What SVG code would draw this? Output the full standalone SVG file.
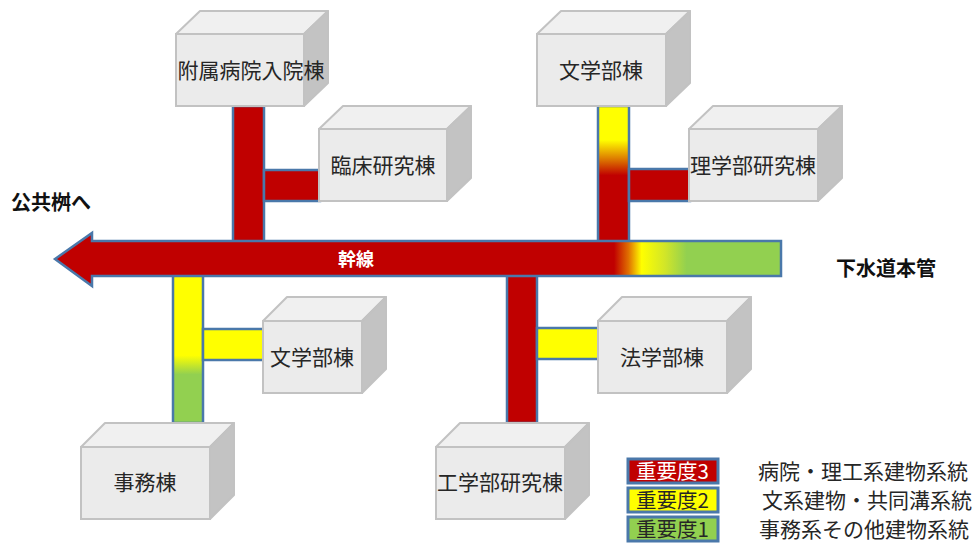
<svg xmlns="http://www.w3.org/2000/svg" width="979" height="545" viewBox="0 0 979 545">
<style>
  .pipe{stroke:#4a78aa;stroke-width:2.5}
  .red{fill:#c00000}
  .yel{fill:#ffff00}
  .grn{fill:#92d050}
  .front{fill:#ebebeb;stroke:#c2c2c2;stroke-width:2}
  .top{fill:#f0f0f0;stroke:#c2c2c2;stroke-width:2;stroke-linejoin:round}
  .side{fill:#c3c3c3;stroke:#c2c2c2;stroke-width:2;stroke-linejoin:round}
  .lbl{font-family:"Noto Sans CJK JP","Noto Sans CJK SC",sans-serif;font-size:21px;fill:#262626;dominant-baseline:central}
  .bold{font-family:"Noto Sans CJK JP","Noto Sans CJK SC",sans-serif;font-size:20px;font-weight:bold;fill:#111;dominant-baseline:central}
</style>
<defs>
  <linearGradient id="gMain" gradientUnits="userSpaceOnUse" x1="55" y1="0" x2="781" y2="0">
    <stop offset="0" stop-color="#c00000"/>
    <stop offset="0.77" stop-color="#c00000"/>
    <stop offset="0.79" stop-color="#e07000"/>
    <stop offset="0.808" stop-color="#ffff00"/>
    <stop offset="0.84" stop-color="#d2e628"/>
    <stop offset="0.87" stop-color="#92d050"/>
    <stop offset="1" stop-color="#92d050"/>
  </linearGradient>
  <linearGradient id="gB" gradientUnits="userSpaceOnUse" x1="0" y1="106" x2="0" y2="242">
    <stop offset="0" stop-color="#ffff00"/>
    <stop offset="0.25" stop-color="#ffff00"/>
    <stop offset="0.39" stop-color="#dd7a00"/>
    <stop offset="0.51" stop-color="#c00000"/>
    <stop offset="1" stop-color="#c00000"/>
  </linearGradient>
  <linearGradient id="gC" gradientUnits="userSpaceOnUse" x1="0" y1="276" x2="0" y2="423">
    <stop offset="0" stop-color="#ffff00"/>
    <stop offset="0.54" stop-color="#ffff00"/>
    <stop offset="0.67" stop-color="#92d050"/>
    <stop offset="1" stop-color="#92d050"/>
  </linearGradient>
</defs>
<rect width="979" height="545" fill="#ffffff"/>

<g id="connectors">
  <rect class="pipe red" x="233" y="106" width="31" height="136"/>
  <rect class="pipe red" x="264" y="170" width="56" height="31"/>
  <rect class="pipe" fill="url(#gB)" x="598" y="106" width="31" height="136"/>
  <rect class="pipe red" x="629" y="169" width="61" height="32"/>
  <rect class="pipe" fill="url(#gC)" x="173" y="275" width="30" height="148"/>
  <rect class="pipe yel" x="203" y="329" width="61" height="31"/>
  <rect class="pipe red" x="507" y="275" width="30" height="148"/>
  <rect class="pipe yel" x="537" y="328" width="62" height="31"/>
  <path id="trunk" class="pipe" fill="url(#gMain)" d="M55,259 L92,233 L92,241 L781,241 L781,276 L92,276 L92,286 Z"/>
  <text x="356" y="258" text-anchor="middle" style="font-family:'Noto Sans CJK JP',sans-serif;font-size:18px;font-weight:bold;fill:#ffffff;dominant-baseline:central">幹線</text>
</g>

<g id="n_fuzoku">
  <polygon class="top" points="176,34 200,11 328,11 304,34"/>
  <polygon class="side" points="304,34 328,11 328,83 304,106"/>
  <rect class="front" x="176" y="34" width="128" height="72"/>
  <text class="lbl" x="251" y="69" text-anchor="middle">附属病院入院棟</text>
</g>
<g id="n_bungaku1">
  <polygon class="top" points="537,34 561,11 690,11 666,34"/>
  <polygon class="side" points="666,34 690,11 690,83 666,106"/>
  <rect class="front" x="537" y="34" width="129" height="72"/>
  <text class="lbl" x="601" y="69" text-anchor="middle">文学部棟</text>
</g>
<g id="n_rinsho">
  <polygon class="top" points="319,129 343,106 471,106 447,129"/>
  <polygon class="side" points="447,129 471,106 471,178 447,201"/>
  <rect class="front" x="319" y="129" width="128" height="72"/>
  <text class="lbl" x="383" y="164" text-anchor="middle">臨床研究棟</text>
</g>
<g id="n_rigaku">
  <polygon class="top" points="689,129 713,106 842,106 818,129"/>
  <polygon class="side" points="818,129 842,106 842,178 818,201"/>
  <rect class="front" x="689" y="129" width="129" height="72"/>
  <text class="lbl" x="753" y="164" text-anchor="middle">理学部研究棟</text>
</g>
<g id="n_bungaku2">
  <polygon class="top" points="263,321 287,297 386,297 362,321"/>
  <polygon class="side" points="362,321 386,297 386,369 362,393"/>
  <rect class="front" x="263" y="321" width="99" height="72"/>
  <text class="lbl" x="312" y="356" text-anchor="middle">文学部棟</text>
</g>
<g id="n_hogaku">
  <polygon class="top" points="598,321 622,297 751,297 727,321"/>
  <polygon class="side" points="727,321 751,297 751,369 727,393"/>
  <rect class="front" x="598" y="321" width="129" height="72"/>
  <text class="lbl" x="662" y="356" text-anchor="middle">法学部棟</text>
</g>
<g id="n_jimu">
  <polygon class="top" points="81,447 105,423 234,423 210,447"/>
  <polygon class="side" points="210,447 234,423 234,495 210,519"/>
  <rect class="front" x="81" y="447" width="129" height="72"/>
  <text class="lbl" x="145" y="481" text-anchor="middle">事務棟</text>
</g>
<g id="n_kogaku">
  <polygon class="top" points="436,447 460,423 589,423 565,447"/>
  <polygon class="side" points="565,447 589,423 589,495 565,519"/>
  <rect class="front" x="436" y="447" width="129" height="72"/>
  <text class="lbl" x="500" y="481" text-anchor="middle">工学部研究棟</text>
</g>

<g id="labels">
  <text class="bold" x="11" y="201">公共桝へ</text>
  <text class="bold" x="836" y="267">下水道本管</text>
</g>

<g id="legend">
  <rect x="628" y="459" width="90" height="24" fill="#c00000" stroke="#4a78aa" stroke-width="3"/>
  <rect x="628" y="488" width="90" height="24" fill="#ffff00" stroke="#4a78aa" stroke-width="3"/>
  <rect x="628" y="517" width="90" height="24" fill="#92d050" stroke="#4a78aa" stroke-width="3"/>
  <text class="lbl" x="636" y="470" style="fill:#ffffff;font-size:20.5px">重要度3</text>
  <text class="lbl" x="636" y="499" style="font-size:20.5px">重要度2</text>
  <text class="lbl" x="636" y="528" style="font-size:20.5px">重要度1</text>
  <text class="lbl" x="758" y="470">病院・理工系建物系統</text>
  <text class="lbl" x="762" y="499">文系建物・共同溝系統</text>
  <text class="lbl" x="759" y="528">事務系その他建物系統</text>
</g>
</svg>
